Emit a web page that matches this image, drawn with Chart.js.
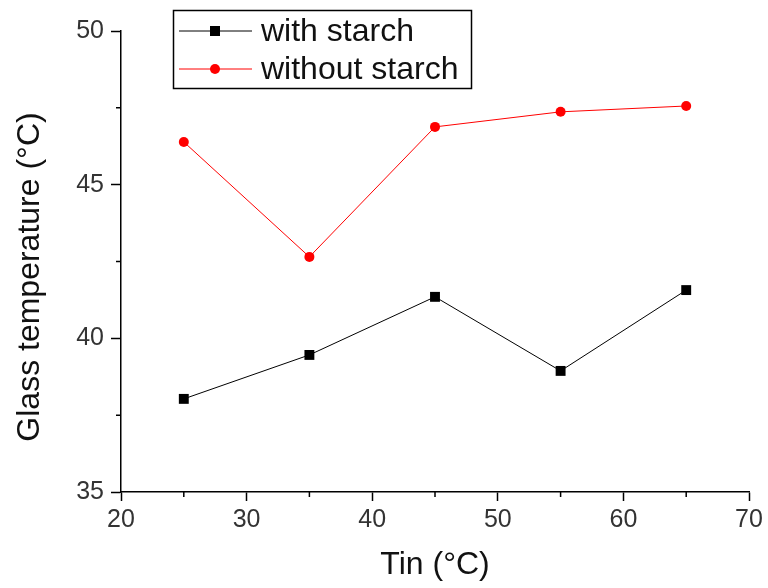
<!DOCTYPE html>
<html>
<head>
<meta charset="utf-8">
<script src="https://cdn.jsdelivr.net/npm/chart.js@4/dist/chart.umd.min.js"></script>
<style>
  html, body { margin: 0; padding: 0; background: #fff; }
  canvas { display: block; }
</style>
</head>
<body>
<canvas id="tgChart" width="768" height="588"></canvas>
<script>
// data
const tinValues = [25, 35, 45, 55, 65];
const withStarch = [38.03, 39.46, 41.35, 38.94, 41.57];
const withoutStarch = [46.39, 42.65, 46.88, 47.37, 47.56];
const seriesNames = ['with starch', 'without starch'];
const xTitle = 'Tin (°C)';
const yTitle = 'Glass temperature (°C)';

const FONT = 'Arial, "Liberation Sans", sans-serif';

const toPoints = (ys) => tinValues.map((x, i) => ({ x: x, y: ys[i] }));

// minor ticks halfway between the major ones, outside the axes
const minorTicks = {
  id: 'minorTicks',
  afterDraw(chart) {
    const ctx = chart.ctx;
    const xs = chart.scales.x, ys = chart.scales.y;
    ctx.save();
    ctx.strokeStyle = '#000';
    ctx.lineWidth = 1.5;
    ctx.beginPath();
    for (let v = xs.min + 5; v < xs.max; v += 10) {
      const px = xs.getPixelForValue(v);
      ctx.moveTo(px, ys.bottom);
      ctx.lineTo(px, ys.bottom + 5);
    }
    for (let v = ys.min + 2.5; v < ys.max; v += 5) {
      const py = ys.getPixelForValue(v);
      ctx.moveTo(xs.left, py);
      ctx.lineTo(xs.left - 5, py);
    }
    ctx.stroke();
    ctx.restore();
  }
};

// y title drawn by hand so it sits where the original has it
const yTitlePlugin = {
  id: 'yTitlePlugin',
  afterDraw(chart) {
    const ctx = chart.ctx;
    ctx.save();
    ctx.translate(30, 277);
    ctx.rotate(-Math.PI / 2);
    ctx.font = '32px ' + FONT;
    ctx.fillStyle = '#111';
    ctx.textAlign = 'center';
    ctx.textBaseline = 'middle';
    ctx.fillText(yTitle, 0, 0);
    ctx.restore();
  }
};

// boxed legend with line + marker samples
const boxLegend = {
  id: 'boxLegend',
  afterDraw(chart) {
    const ctx = chart.ctx;
    const rows = [31, 69];
    ctx.save();
    ctx.strokeStyle = '#000';
    ctx.lineWidth = 1.5;
    ctx.strokeRect(173.5, 10.5, 298, 78);
    chart.data.datasets.forEach((ds, i) => {
      const y = rows[i];
      ctx.strokeStyle = ds.borderColor;
      ctx.lineWidth = 1;
      ctx.beginPath();
      ctx.moveTo(179, y);
      ctx.lineTo(252, y);
      ctx.stroke();
      ctx.fillStyle = ds.pointBackgroundColor;
      if (ds.pointStyle === 'rect') {
        ctx.fillRect(210, y - 5, 10, 10);
      } else {
        ctx.beginPath();
        ctx.arc(215, y, 5, 0, Math.PI * 2);
        ctx.fill();
      }
      ctx.font = '32px ' + FONT;
      ctx.fillStyle = '#111';
      ctx.textBaseline = 'middle';
      ctx.textAlign = 'left';
      ctx.fillText(ds.label, 261, y + 1);
    });
    ctx.restore();
  }
};

new Chart(document.getElementById('tgChart'), {
  type: 'scatter',
  data: {
    datasets: [
      {
        label: seriesNames[0],
        data: toPoints(withStarch),
        showLine: true,
        borderColor: '#000',
        borderWidth: 1,
        pointStyle: 'rect',
        pointRadius: 7,
        pointBackgroundColor: '#000',
        pointBorderColor: '#000',
        pointBorderWidth: 0
      },
      {
        label: seriesNames[1],
        data: toPoints(withoutStarch),
        showLine: true,
        borderColor: '#ff0000',
        borderWidth: 1,
        pointStyle: 'circle',
        pointRadius: 5,
        pointBackgroundColor: '#ff0000',
        pointBorderColor: '#ff0000',
        pointBorderWidth: 0
      }
    ]
  },
  options: {
    responsive: false,
    animation: false,
    devicePixelRatio: 1,
    layout: { padding: { left: 0, top: 31, right: 19, bottom: 0 } },
    plugins: {
      legend: { display: false },
      tooltip: { enabled: false }
    },
    scales: {
      x: {
        type: 'linear',
        min: 20,
        max: 70,
        afterFit: (s) => { s.height = 96; },
        border: { color: '#000', width: 1.5 },
        grid: { drawOnChartArea: false, tickLength: 9, tickColor: '#000', tickWidth: 1.5 },
        ticks: { stepSize: 10, padding: 4, color: '#333', font: { family: FONT, size: 25 } },
        title: { display: true, text: xTitle, color: '#111', font: { family: FONT, size: 32 }, padding: { top: 0, bottom: 4 } }
      },
      y: {
        type: 'linear',
        min: 35,
        max: 50,
        afterFit: (s) => { s.width = 121; },
        border: { color: '#000', width: 1.5 },
        grid: { drawOnChartArea: false, tickLength: 10, tickColor: '#000', tickWidth: 1.5 },
        ticks: { stepSize: 5, padding: 7, color: '#333', font: { family: FONT, size: 25 } }
      }
    }
  },
  plugins: [minorTicks, yTitlePlugin, boxLegend]
});
</script>
</body>
</html>
